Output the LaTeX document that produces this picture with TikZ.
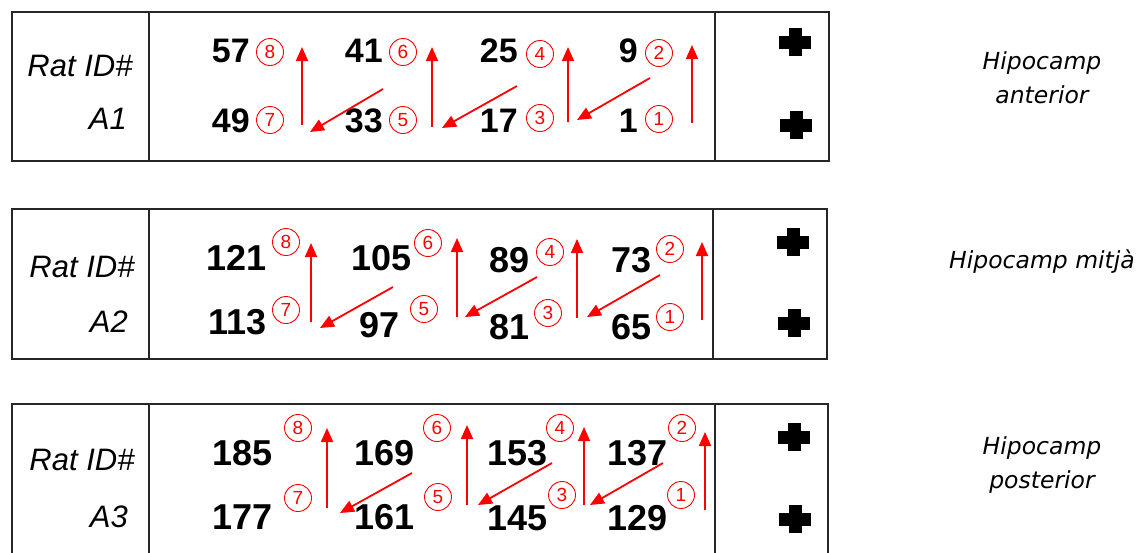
\documentclass[tikz,border=0pt]{standalone}
\usepackage{fontspec}
\setmainfont{Liberation Sans}
\newfontfamily\regionfont{DejaVu Sans}
\usetikzlibrary{arrows.meta}

\tikzset{
  frame/.style={line width=2.8pt,draw=black!85},
  num/.style={font=\fontsize{36}{36}\selectfont\bfseries,anchor=east,inner sep=0pt},
  smallnum/.style={num,font=\fontsize{34}{34}\selectfont\bfseries},
  ord/.style={circle,draw=red,text=red,line width=0.9pt,minimum size=27pt,inner sep=0pt,
    font=\fontsize{19}{19}\selectfont},
  idtext/.style={font=\fontsize{31}{31}\selectfont\itshape,inner sep=0pt},
  region/.style={font=\regionfont\fontsize{23.5}{34}\selectfont\itshape,align=center},
  walk/.style={red,line width=1.8pt,-{Triangle[length=14pt,width=12pt]}},
  heavyplus/.pic={\fill (-16,-6.5) rectangle (16,6.5); \fill (-6.5,-14) rectangle (6.5,14);}
}

\begin{document}
\begin{tikzpicture}[x=1pt,y=-1pt]
  \useasboundingbox (0,0) rectangle (1143,552);
  \clip (0,0) rectangle (1143,552);

  % anterior
  \draw[frame] (12,12) rectangle (829,161);
  \draw[frame] (149,12) -- (149,161) (715,12) -- (715,161);
  \node[idtext] (id1) at (80,66) {Rat ID\#};
  \node[idtext,anchor=east] (rat1) at (127,119) {A1};
  \node[smallnum] (n57) at (250,51) {57};  \node[ord] (a8) at (270,52) {8};
  \node[smallnum] (n49) at (250,121) {49}; \node[ord] (a7) at (270,120) {7};
  \node[smallnum] (n41) at (383,51) {41};  \node[ord] (a6) at (403,52) {6};
  \node[smallnum] (n33) at (383,121) {33}; \node[ord] (a5) at (403,120) {5};
  \node[smallnum] (n25) at (518,51) {25};  \node[ord] (a4) at (540,54) {4};
  \node[smallnum] (n17) at (518,121) {17}; \node[ord] (a3) at (540,118) {3};
  \node[smallnum] (n9) at (638,51) {9};    \node[ord] (a2) at (659,53) {2};
  \node[smallnum] (n1) at (638,121) {1};   \node[ord] (a1) at (659,119) {1};
  \coordinate (a12s) at (692,123); \coordinate (a12e) at (692,45);
  \coordinate (a23s) at (650,78);  \coordinate (a23e) at (577,120);
  \coordinate (a34s) at (568,122); \coordinate (a34e) at (568,47);
  \coordinate (a45s) at (517,86);  \coordinate (a45e) at (442,128);
  \coordinate (a56s) at (432,127); \coordinate (a56e) at (432,47);
  \coordinate (a67s) at (383,89);  \coordinate (a67e) at (310,132);
  \coordinate (a78s) at (302,125); \coordinate (a78e) at (302,47);
  \draw[walk] (a12s) -- (a12e);
  \draw[walk] (a23s) -- (a23e);
  \draw[walk] (a34s) -- (a34e);
  \draw[walk] (a45s) -- (a45e);
  \draw[walk] (a56s) -- (a56e);
  \draw[walk] (a67s) -- (a67e);
  \draw[walk] (a78s) -- (a78e);
  \pic (plus1a) at (795,42) {heavyplus};
  \pic (plus1b) at (796,125) {heavyplus};
  \node[region] (ant) at (1042,78) {Hipocamp\\anterior};

  % mitja
  \draw[frame] (12,209) rectangle (827,359);
  \draw[frame] (149,209) -- (149,359) (713,209) -- (713,359);
  \node[idtext] (id2) at (82,267) {Rat ID\#};
  \node[idtext,anchor=east] (rat2) at (128,322) {A2};
  \node[num] (n121) at (267,258) {121}; \node[ord] (b8) at (286,242) {8};
  \node[num] (n113) at (267,322) {113}; \node[ord] (b7) at (286,310) {7};
  \node[num] (n105) at (412,258) {105}; \node[ord] (b6) at (428,243) {6};
  \node[num] (n97) at (400,325) {97};   \node[ord] (b5) at (424,309) {5};
  \node[num] (n89) at (530,260) {89};   \node[ord] (b4) at (550,252) {4};
  \node[num] (n81) at (530,327) {81};   \node[ord] (b3) at (548,313) {3};
  \node[num] (n73) at (652,260) {73};   \node[ord] (b2) at (670,249) {2};
  \node[num] (n65) at (652,327) {65};   \node[ord] (b1) at (670,317) {1};
  \coordinate (b12s) at (702,320); \coordinate (b12e) at (702,242);
  \coordinate (b23s) at (660,275); \coordinate (b23e) at (587,317);
  \coordinate (b34s) at (577,318); \coordinate (b34e) at (577,239);
  \coordinate (b45s) at (537,277); \coordinate (b45e) at (465,317);
  \coordinate (b56s) at (457,317); \coordinate (b56e) at (457,238);
  \coordinate (b67s) at (393,287); \coordinate (b67e) at (320,328);
  \coordinate (b78s) at (311,322); \coordinate (b78e) at (311,243);
  \draw[walk] (b12s) -- (b12e);
  \draw[walk] (b23s) -- (b23e);
  \draw[walk] (b34s) -- (b34e);
  \draw[walk] (b45s) -- (b45e);
  \draw[walk] (b56s) -- (b56e);
  \draw[walk] (b67s) -- (b67e);
  \draw[walk] (b78s) -- (b78e);
  \pic (plus2a) at (793,242) {heavyplus};
  \pic (plus2b) at (794,323) {heavyplus};
  \node[region] (mid) at (1042,262) {Hipocamp mitjà};

  % posterior
  \draw[frame] (12,570) -- (12,404) -- (828,404) -- (828,570);
  \draw[frame] (149,404) -- (149,570) (715,404) -- (715,570);
  \node[idtext] (id3) at (82,460) {Rat ID\#};
  \node[idtext,anchor=east] (rat3) at (128,517) {A3};
  \node[num] (n185) at (273,453) {185}; \node[ord] (c8) at (298,428) {8};
  \node[num] (n177) at (273,517) {177}; \node[ord] (c7) at (298,498) {7};
  \node[num] (n169) at (415,453) {169}; \node[ord] (c6) at (437,428) {6};
  \node[num] (n161) at (415,517) {161}; \node[ord] (c5) at (438,497) {5};
  \node[num] (n153) at (548,453) {153}; \node[ord] (c4) at (560,428) {4};
  \node[num] (n145) at (548,518) {145}; \node[ord] (c3) at (562,495) {3};
  \node[num] (n137) at (668,453) {137}; \node[ord] (c2) at (682,428) {2};
  \node[num] (n129) at (668,518) {129}; \node[ord] (c1) at (681,495) {1};
  \coordinate (c12s) at (705,510); \coordinate (c12e) at (705,432);
  \coordinate (c23s) at (663,463); \coordinate (c23e) at (590,505);
  \coordinate (c34s) at (584,505); \coordinate (c34e) at (584,427);
  \coordinate (c45s) at (552,463); \coordinate (c45e) at (478,505);
  \coordinate (c56s) at (467,505); \coordinate (c56e) at (467,425);
  \coordinate (c67s) at (412,473); \coordinate (c67e) at (340,513);
  \coordinate (c78s) at (327,508); \coordinate (c78e) at (327,428);
  \draw[walk] (c12s) -- (c12e);
  \draw[walk] (c23s) -- (c23e);
  \draw[walk] (c34s) -- (c34e);
  \draw[walk] (c45s) -- (c45e);
  \draw[walk] (c56s) -- (c56e);
  \draw[walk] (c67s) -- (c67e);
  \draw[walk] (c78s) -- (c78e);
  \pic (plus3a) at (794,437) {heavyplus};
  \pic (plus3b) at (795,519) {heavyplus};
  \node[region] (post) at (1042,465) {Hipocamp\\posterior};
\end{tikzpicture}
\end{document}
